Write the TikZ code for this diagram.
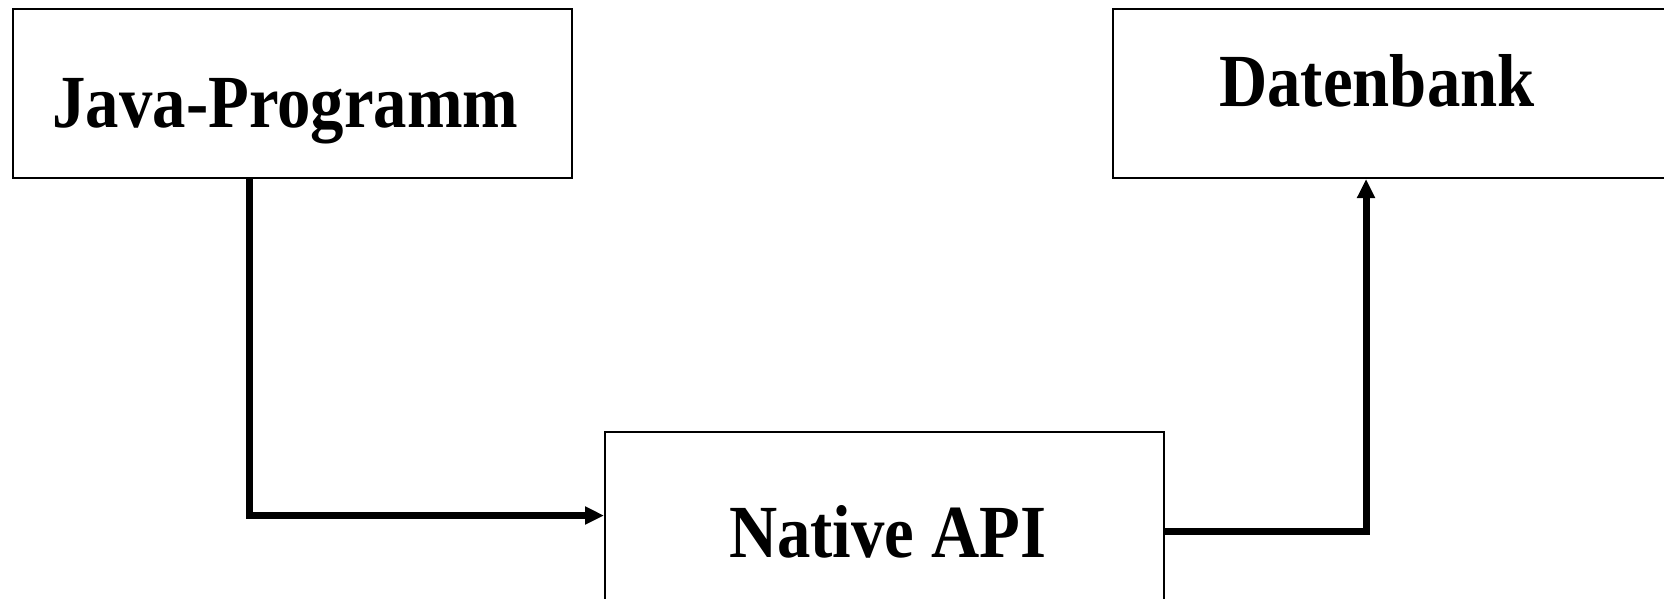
\documentclass[tikz,border=0pt]{standalone}
\usepackage{fontspec}
\setmainfont[FakeStretch=0.89]{Liberation Serif}
\usetikzlibrary{arrows.meta}
\begin{document}
\begin{tikzpicture}[x=0.5pt,y=-0.5pt]
	\tikzstyle{block} = [ draw, rectangle, line width=1pt, inner sep=0pt, anchor=north west ];
	\tikzstyle{title} = [ font={\fontsize{37.5}{44}\selectfont\bfseries}, anchor=base, inner sep=0pt ];
	\tikzstyle{flow} = [ line width=3.5pt, -{Triangle[length=9.5pt,width=8.5pt]} ];

	\useasboundingbox (0,0) rectangle (1664,599);
	\clip (0,0) rectangle (1664,599);

	\node[block, minimum width=279.5pt, minimum height=84.25pt] (java) at (11.5,8.5) {};
	\node[block, minimum width=304pt, minimum height=84.25pt] (data) at (1112,8.5) {};
	\node[block, minimum width=279.5pt, minimum height=110pt] (native) at (604,431) {};

	\node[title] (javatxt) at (285.5,127) {Java-Programm};
	\node[title] (datatxt) at (1377,107) {Datenbank};
	\node[title] (nativetxt) at (887.5,557) {Native API};

	\coordinate (bend1) at (249.5,515.5);
	\coordinate (bend2) at (1366,531.5);
	\draw[flow] (java.south -| bend1) -- (bend1) -- (native.west |- bend1);
	\draw[flow] (native.east |- bend2) -- (bend2) -- (data.south -| bend2);
\end{tikzpicture}
\end{document}
